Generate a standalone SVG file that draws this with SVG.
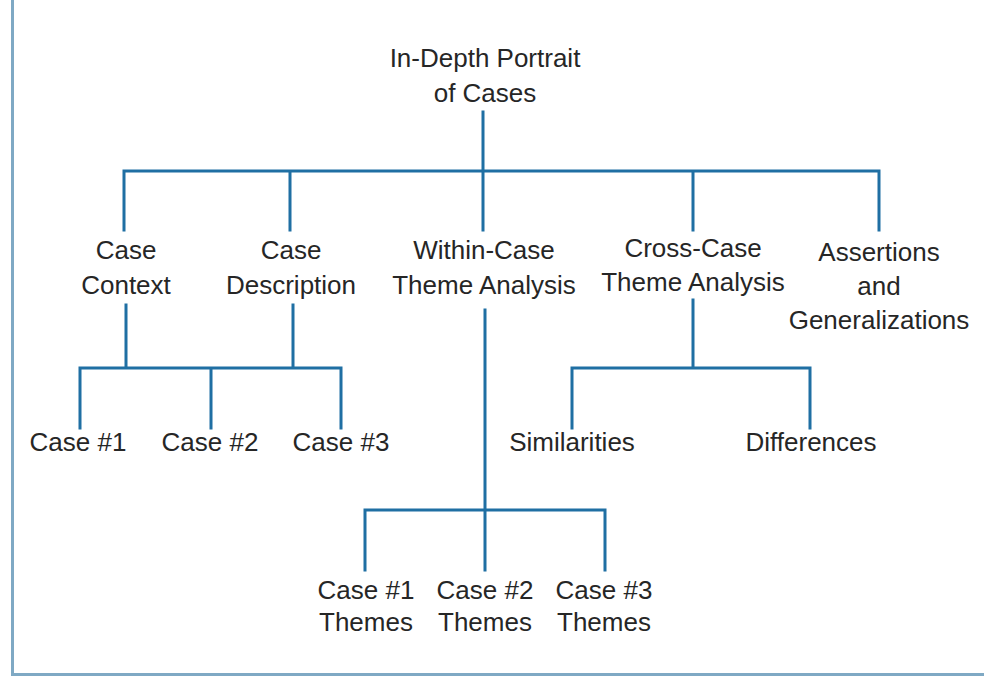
<svg xmlns="http://www.w3.org/2000/svg" width="984" height="676" viewBox="0 0 984 676">
<style>
text{font-family:"Liberation Sans",Arial,sans-serif;font-size:26px;fill:#262626;text-anchor:middle}
.ln{stroke:#1f6fa3;stroke-width:3;fill:none;stroke-linecap:square}
.bd{stroke:#7fa9c4;stroke-width:3;fill:none}
</style>
<rect width="984" height="676" fill="#ffffff"/>
<path class="bd" d="M12.5,0 V674.5 H984"/>
<g id="connectors">
<path class="ln" d="M483,112 V171 M124,230 V171 H879 V230 M290,171 V230 M483,171 V230 M693,171 V230"/>
<path class="ln" d="M126,305 V368 M293,305 V368 M80,428 V368 H341 V428 M211,368 V428"/>
<path class="ln" d="M485,310 V570 M365,570 V510 H605 V570"/>
<path class="ln" d="M693,300 V368 M572,428 V368 H810 V428"/>
</g>
<g id="root"><text x="485" y="67">In-Depth Portrait</text><text x="485" y="102">of Cases</text></g>
<g id="case-context"><text x="126" y="259">Case</text><text x="126" y="294">Context</text></g>
<g id="case-description"><text x="291" y="259">Case</text><text x="291" y="294">Description</text></g>
<g id="within-case"><text x="484" y="259">Within-Case</text><text x="484" y="294">Theme Analysis</text></g>
<g id="cross-case"><text x="693" y="257">Cross-Case</text><text x="693" y="291">Theme Analysis</text></g>
<g id="assertions"><text x="879" y="261">Assertions</text><text x="879" y="295">and</text><text x="879" y="329">Generalizations</text></g>
<g id="case1"><text x="78" y="451">Case #1</text></g>
<g id="case2"><text x="210" y="451">Case #2</text></g>
<g id="case3"><text x="341" y="451">Case #3</text></g>
<g id="similarities"><text x="572" y="451">Similarities</text></g>
<g id="differences"><text x="811" y="451">Differences</text></g>
<g id="case1-themes"><text x="366" y="599">Case #1</text><text x="366" y="631">Themes</text></g>
<g id="case2-themes"><text x="485" y="599">Case #2</text><text x="485" y="631">Themes</text></g>
<g id="case3-themes"><text x="604" y="599">Case #3</text><text x="604" y="631">Themes</text></g>
</svg>
